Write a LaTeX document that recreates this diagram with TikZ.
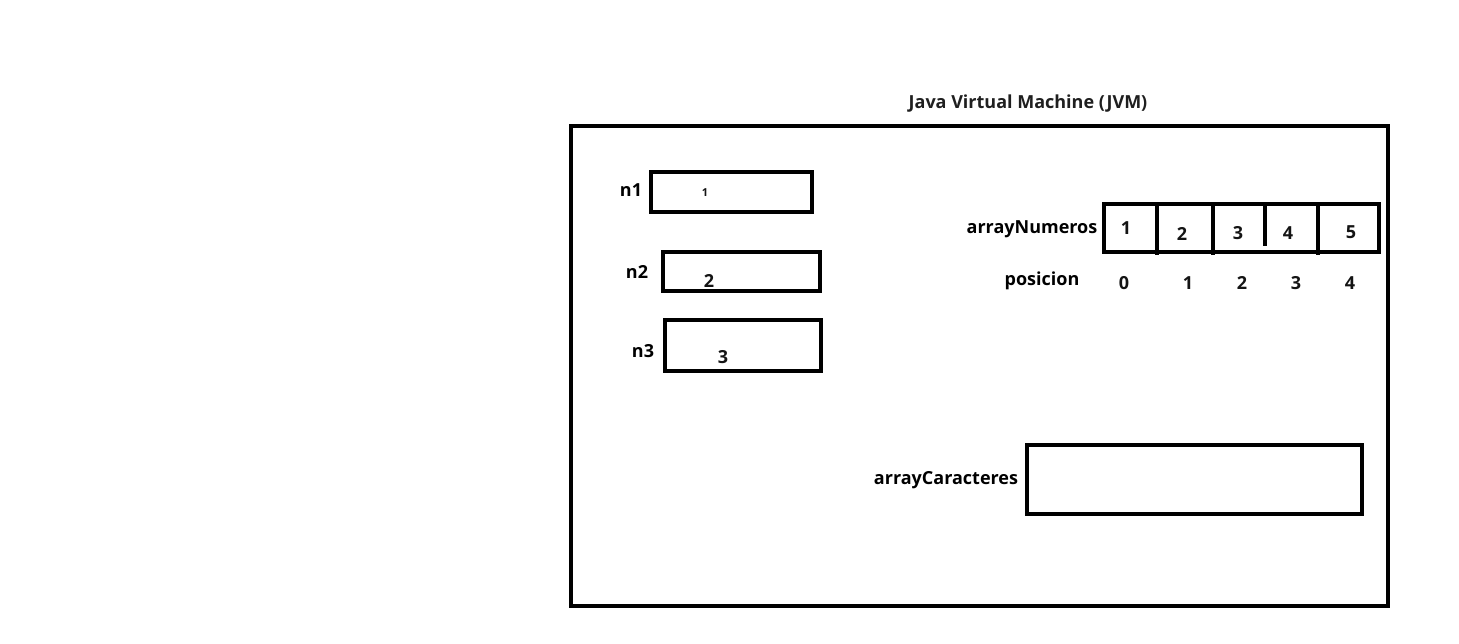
\documentclass[tikz,border=0pt]{standalone}
\usepackage{fontspec}
\setmainfont{Open Sans}
\begin{document}
\begin{tikzpicture}[x=1pt,y=-1pt,
  box/.style={draw=black,line width=4pt,inner sep=0pt,outer sep=0pt},
  lbl/.style={font=\bfseries\fontsize{18}{21}\selectfont,inner sep=0pt,text=black,yshift=-2pt},
  nlbl/.style={font=\bfseries\fontsize{18}{21}\selectfont,inner sep=0pt,text=black},
  val/.style={font=\bfseries\fontsize{18}{21}\selectfont,inner sep=0pt,text=black!92}]
\useasboundingbox (0,0) rectangle (1459,643);
\fill[white] (0,0) rectangle (1459,643);
% title
\node[lbl,text=black!88] (title) at (1028,102) {Java Virtual Machine (JVM)};
% JVM
\node[box,minimum width=817pt,minimum height=480pt] (jvm) at (979.5,366) {};
% n boxes
\node[box,minimum width=161pt,minimum height=40pt] (b1) at (731.5,192) {};
\node[box,minimum width=157pt,minimum height=39pt] (b2) at (741.5,271.5) {};
\node[box,minimum width=156pt,minimum height=51pt] (b3) at (743,345.5) {};
\node[nlbl] (l1) at (631,190) {n1};
\node[nlbl] (l2) at (637,272) {n2};
\node[nlbl] (l3) at (643,351) {n3};
\node[val,font=\bfseries\fontsize{11}{13}\selectfont] (v1) at (705,193) {1};
\node[val] (v2) at (709,281) {2};
\node[val] (v3) at (723,357) {3};
% array
\node[box,minimum width=275pt,minimum height=48pt] (arr) at (1241.5,228) {};
\coordinate (d1t) at (1157,204); \coordinate (d1b) at (1157,255);
\coordinate (d2t) at (1213,204); \coordinate (d2b) at (1213,255);
\coordinate (d3t) at (1265,204); \coordinate (d3b) at (1265,246);
\coordinate (d4t) at (1318,204); \coordinate (d4b) at (1318,255);
\draw[line width=4pt] (d1t) -- (d1b);
\draw[line width=4pt] (d2t) -- (d2b);
\draw[line width=4pt] (d3t) -- (d3b);
\draw[line width=4pt] (d4t) -- (d4b);
\node[lbl] (an) at (1032,227) {arrayNumeros};
\node[val] (a1) at (1126,228) {1};
\node[val] (a2) at (1182,234) {2};
\node[val] (a3) at (1238,233) {3};
\node[val] (a4) at (1288,233) {4};
\node[val] (a5) at (1351,232) {5};
\node[lbl] (pos) at (1042,279) {posicion};
\node[val] (p0) at (1124,283) {0};
\node[val] (p1) at (1188,283) {1};
\node[val] (p2) at (1242,283) {2};
\node[val] (p3) at (1296,283) {3};
\node[val] (p4) at (1350,283) {4};
% arrayCaracteres
\node[box,minimum width=335pt,minimum height=69pt] (ac) at (1194.5,479.5) {};
\node[lbl] (acl) at (946,478) {arrayCaracteres};
\end{tikzpicture}
\end{document}
